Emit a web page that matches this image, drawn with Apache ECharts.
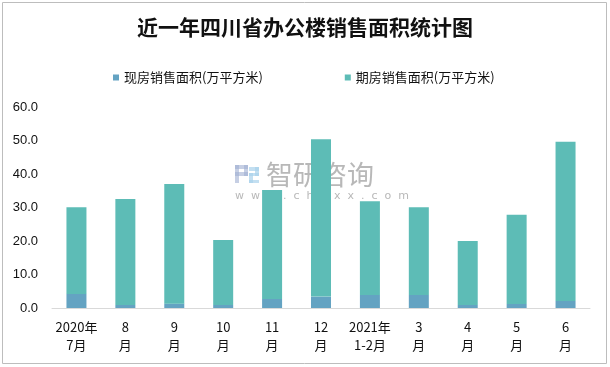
<!DOCTYPE html>
<html><head><meta charset="utf-8">
<script src="https://cdn.jsdelivr.net/npm/echarts@6/dist/echarts.min.js"></script>
<style>html,body{margin:0;padding:0;background:#fff}#c{width:610px;height:367px}</style>
</head><body><div id="c"></div>
<script>
var categories = ['2020年\n7月','8\n月','9\n月','10\n月','11\n月','12\n月','2021年\n1-2月','3\n月','4\n月','5\n月','6\n月'];
var xianfang = [4.2, 0.9, 1.3, 0.9, 2.7, 3.4, 3.9, 3.9, 0.9, 1.2, 2.1];
var qifang = [25.9, 31.6, 35.7, 19.4, 32.5, 47.0, 28.0, 26.2, 19.1, 26.6, 47.5];
var yTicks = [0, 10, 20, 30, 40, 50, 60];

var wmGray = 'rgba(160,160,160,0.75)';
var c1 = 'rgba(160,175,210,0.6)', c2 = 'rgba(170,210,235,0.7)';
var chart = echarts.init(document.getElementById('c'));
chart.setOption({
  animation: false,
  title: {text: '近一年四川省办公楼销售面积统计图', left: 'center', top: 12,
    textStyle: {fontFamily: 'Noto Sans CJK SC', fontWeight: 'bold', fontSize: 21, color: '#111'}},
  legend: {top: 66, left: 108, itemGap: 82, itemWidth: 6, itemHeight: 6, icon: 'rect',
    textStyle: {fontFamily: 'Noto Sans CJK SC', fontSize: 13, color: '#111'}},
  grid: {left: 52, right: 20, top: 107, bottom: 59},
  xAxis: {type: 'category', data: categories,
    axisLine: {lineStyle: {color: '#d9d9d9'}}, axisTick: {show: false},
    axisLabel: {color: '#111', fontSize: 13, fontFamily: 'Noto Sans CJK SC', lineHeight: 18, margin: 10, interval: 0}},
  yAxis: {type: 'value', min: yTicks[0], max: yTicks[yTicks.length-1], interval: 10,
    axisLine: {show: false}, axisTick: {show: false}, splitLine: {show: false},
    axisLabel: {color: '#111', fontSize: 13, fontFamily: 'Liberation Sans', margin: 14,
      formatter: function(v){return v.toFixed(1);}}},
  graphic: [
    {type: 'rect', shape: {x: 2.5, y: 2.5, width: 604, height: 361}, style: {fill: 'none', stroke: '#bdbdbd', lineWidth: 1}, z: -1},
    {type: 'text', left: 266, top: 161, style: {text: '智研咨询', font: '27px "Noto Sans CJK SC"', fill: wmGray}, z: -1},
    {type: 'text', left: 235, top: 191, style: {text: 'w  w  w  .  c  h  y  x  x  .  c  o  m', font: '11px "DejaVu Sans"', fill: wmGray}, z: -1},
    {type: 'group', left: 235, top: 165, z: -1, children: [
      {type: 'rect', shape: {x: 0, y: 0, width: 13, height: 4}, style: {fill: c1}},
      {type: 'rect', shape: {x: 9, y: 0, width: 4, height: 11}, style: {fill: c1}},
      {type: 'rect', shape: {x: 0, y: 7, width: 13, height: 4}, style: {fill: c1}},
      {type: 'rect', shape: {x: 0, y: 0, width: 4, height: 18}, style: {fill: c1}},
      {type: 'rect', shape: {x: 14, y: 2, width: 10, height: 4}, style: {fill: c2}},
      {type: 'rect', shape: {x: 20, y: 2, width: 4, height: 9}, style: {fill: c2}},
      {type: 'rect', shape: {x: 14, y: 8, width: 10, height: 3}, style: {fill: c2}},
      {type: 'rect', shape: {x: 14, y: 8, width: 4, height: 10}, style: {fill: c2}},
      {type: 'rect', shape: {x: 14, y: 15, width: 10, height: 3}, style: {fill: c2}}
    ]}
  ],
  series: [
    {name: '现房销售面积(万平方米)', type: 'bar', stack: 's', data: xianfang, barWidth: 20,
      itemStyle: {color: '#64a3c2'}},
    {name: '期房销售面积(万平方米)', type: 'bar', stack: 's', data: qifang, barWidth: 20,
      itemStyle: {color: '#5dbcb6'}}
  ]
});
</script></body></html>
